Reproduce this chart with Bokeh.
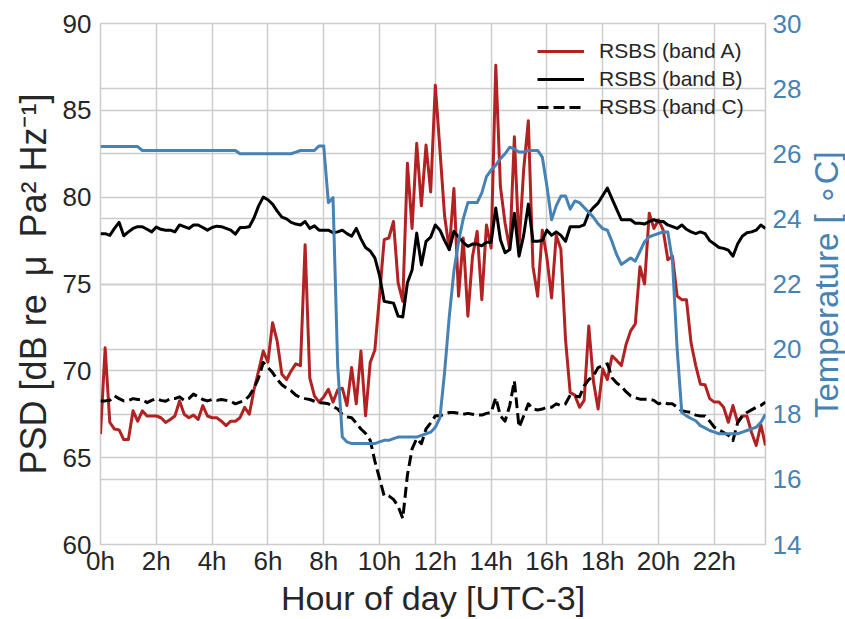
from bokeh.plotting import figure
from bokeh.layouts import row
from bokeh.models import Range1d, LinearAxis, FixedTicker, Grid, Legend, LegendItem, Div
from bokeh.embed import file_html
from bokeh.resources import INLINE

# 10-minute samples, 0h .. 23h50
hours = [i / 6 for i in range(144)]

band_a = [
    66.36, 71.33, 67.03, 66.65, 66.6, 66.04,
    66.05, 67.7, 67.1, 67.7, 67.4, 67.4,
    67.4, 67.3, 67.03, 67.2, 67.4, 68.27,
    67.5, 67.3, 67.45, 67.2, 68.0, 67.4,
    67.3, 67.3, 67.1, 66.85, 67.1, 67.1,
    67.3, 67.9, 67.5, 68.9, 70.0, 71.14,
    70.5, 72.77, 71.7, 69.8, 69.5, 70.0,
    70.4, 70.3, 77.26, 69.6, 68.56, 68.2,
    68.5, 68.94, 68.2, 68.9, 69.0, 68.0,
    70.19, 68.1, 71.14, 67.41, 70.48, 71.2,
    74.3, 77.55, 77.65, 78.6, 75.07, 74.0,
    81.95, 78.2, 83.1, 79.5, 83.0, 80.3,
    86.44, 82.7, 78.9, 76.98, 80.5, 74.3,
    77.65, 73.15, 76.6, 78.03, 74.1, 78.4,
    77.07, 87.6, 80.6, 78.5, 76.98, 83.48,
    77.17, 81.6, 84.4, 76.0, 74.3, 78.1,
    76.5, 74.2, 77.8, 77.0, 71.8, 68.75,
    68.6, 67.9, 68.3, 72.58, 69.4, 67.8,
    70.1, 69.5, 70.86, 70.6, 70.3, 71.5,
    72.3, 72.7, 76.0, 75.0, 79.08, 78.2,
    78.7, 78.1, 76.4, 76.6, 74.3, 74.1,
    74.1, 71.6, 70.3, 69.23, 69.2, 68.4,
    68.2, 68.2, 67.9, 67.04, 68.0, 67.04,
    67.4, 67.4, 66.45, 65.7, 66.9, 65.7,
]

band_b = [
    77.9, 77.9, 77.8, 78.2, 78.55, 77.78,
    78.0, 78.2, 78.3, 78.3, 78.15, 78.0,
    78.28, 78.15, 78.1, 78.1, 78.0, 78.4,
    78.3, 78.2, 78.4, 78.4, 78.25, 78.1,
    78.25, 78.33, 78.3, 78.2, 78.1, 77.87,
    78.25, 78.25, 78.3, 78.8, 79.5, 80.0,
    79.85, 79.6, 79.2, 78.85, 78.75, 78.55,
    78.45, 78.4, 78.6, 78.2, 78.35, 78.1,
    78.1, 78.1, 77.95, 78.0, 78.1, 77.9,
    77.75, 78.2, 77.6, 77.1, 76.9, 76.5,
    75.5, 74.0, 73.95, 73.9, 73.15, 73.1,
    75.07, 75.8, 77.93, 76.1, 77.45, 77.7,
    78.4, 78.1, 77.5, 76.98, 78.03, 77.7,
    77.4, 77.17, 77.3, 77.3, 77.2, 77.4,
    77.4, 79.37, 77.55, 76.8, 76.98, 79.08,
    76.6, 77.8, 79.6, 77.46, 77.46, 77.5,
    78.1, 77.8, 78.0, 77.8, 77.46, 78.3,
    78.3, 78.3, 78.4, 79.08, 79.4, 79.66,
    80.1, 80.52, 79.9, 79.3, 78.7, 78.7,
    78.7, 78.5, 78.5, 78.45, 78.6, 78.7,
    78.6, 78.6, 78.4, 78.3, 78.2, 78.4,
    78.15, 78.0, 77.9, 78.0, 77.9, 77.5,
    77.3, 77.1, 77.05, 76.95, 76.6, 77.3,
    77.75, 77.95, 78.0, 78.1, 78.4, 78.2,
]

band_c = [
    68.27, 68.27, 68.3, 68.56, 68.4, 68.27,
    68.3, 68.4, 68.35, 68.35, 68.17, 68.3,
    68.4, 68.3, 68.25, 68.4, 68.4, 68.5,
    68.3, 68.4, 68.66, 68.5, 68.35, 68.27,
    68.35, 68.3, 68.35, 68.3, 68.25, 68.1,
    68.2, 68.3, 68.56, 69.0, 69.6, 70.48,
    70.2, 69.9, 69.5, 69.2, 69.0, 68.85,
    68.6, 68.46, 68.4, 68.35, 68.25, 68.17,
    68.15, 68.1, 67.95, 67.8, 67.5, 67.35,
    67.3, 67.0, 66.65, 66.4, 66.0, 64.8,
    63.8, 62.8, 62.8, 62.6, 62.2, 61.5,
    64.0, 65.5, 66.1, 65.8, 66.65, 67.0,
    67.41, 67.41, 67.5, 67.6, 67.6, 67.55,
    67.5, 67.55, 67.5, 67.45, 67.45, 67.55,
    67.6, 68.46, 67.4, 67.1, 68.0, 69.42,
    66.75, 67.4, 68.1, 67.8, 67.75, 67.8,
    67.9, 67.9, 68.1, 68.0, 68.1, 68.6,
    68.55, 68.5, 69.13, 69.5, 69.7, 70.19,
    70.3, 70.4, 69.6, 69.3, 69.1, 68.8,
    68.56, 68.45, 68.37, 68.37, 68.37, 68.3,
    68.1, 68.2, 68.1, 68.1, 67.9, 67.7,
    67.65, 67.6, 67.45, 67.4, 67.4, 67.1,
    66.75, 66.6, 66.45, 66.3, 65.98, 67.0,
    67.4, 67.6, 67.75, 67.9, 68.0, 68.2,
]

temperature = [
    26.22, 26.22, 26.22, 26.22, 26.22, 26.22,
    26.22, 26.22, 26.22, 26.1, 26.1, 26.1,
    26.1, 26.1, 26.1, 26.1, 26.1, 26.1,
    26.1, 26.1, 26.1, 26.1, 26.1, 26.1,
    26.1, 26.1, 26.1, 26.1, 26.1, 26.1,
    26.0, 26.0, 26.0, 26.0, 26.0, 26.0,
    26.0, 26.0, 26.0, 26.0, 26.0, 26.0,
    26.05, 26.1, 26.1, 26.1, 26.1, 26.24,
    26.24, 24.5, 24.65, 19.5, 17.3, 17.15,
    17.1, 17.1, 17.1, 17.1, 17.1, 17.1,
    17.15, 17.2, 17.2, 17.25, 17.3, 17.3,
    17.3, 17.3, 17.3, 17.35, 17.4, 17.45,
    17.6, 17.9, 19.3, 21.0, 22.4, 23.3,
    24.0, 24.5, 24.5, 24.5, 24.8, 25.3,
    25.5, 25.65, 25.85, 26.0, 26.2, 26.15,
    26.05, 26.05, 26.1, 26.1, 26.1, 25.9,
    25.0, 23.97, 24.4, 24.7, 24.7, 24.3,
    24.55, 24.5, 24.35, 24.2, 24.05, 23.85,
    23.7, 23.65, 23.3, 22.9, 22.6, 22.7,
    22.8, 22.7, 23.0, 23.3, 23.45, 23.5,
    23.55, 23.6, 23.6, 22.7, 20.0, 18.05,
    17.95, 17.87, 17.8, 17.65, 17.58, 17.5,
    17.45, 17.4, 17.4, 17.4, 17.4, 17.4,
    17.45, 17.5, 17.55, 17.6, 17.75, 18.0,
]

x_ticks = [0, 2, 4, 6, 8, 10, 12, 14, 16, 18, 20, 22]
x_tick_labels = ["0h", "2h", "4h", "6h", "8h", "10h", "12h", "14h", "16h", "18h", "20h", "22h"]
psd_ticks = [60, 65, 70, 75, 80, 85, 90]
temp_ticks = [14, 16, 18, 20, 22, 24, 26, 28, 30]

FONT = "Liberation Sans"
TEXT = "#262626"
GRID = "#cccccc"
RED = "#b22222"
BLUE = "#4682b4"

p = figure(width=810, height=619, output_backend="svg", toolbar_location=None,
           x_range=Range1d(0, hours[-1]), y_range=Range1d(60, 90),
           min_border_left=100, min_border_right=45, min_border_top=23, min_border_bottom=73,
           margin=0)
p.extra_y_ranges = {"temp": Range1d(14, 30)}
p.background_fill_color = "white"
p.border_fill_color = "white"
p.outline_line_color = GRID
p.outline_line_width = 1.5

# axes
p.xaxis.ticker = FixedTicker(ticks=x_ticks)
p.xaxis.major_label_overrides = {t: l for t, l in zip(x_ticks, x_tick_labels)}
p.yaxis.ticker = FixedTicker(ticks=psd_ticks)
for ax in (p.xaxis[0], p.yaxis[0]):
    ax.axis_line_color = None
    ax.major_tick_line_color = None
    ax.minor_tick_line_color = None
    ax.major_tick_out = 0
    ax.major_tick_in = 0
    ax.major_label_text_font = FONT
    ax.major_label_text_font_size = "26px"
    ax.major_label_text_color = TEXT
    ax.axis_label_text_font = FONT
    ax.axis_label_text_font_style = "normal"
    ax.axis_label_text_color = TEXT
p.xaxis.axis_label_text_font_size = "34px"
p.yaxis.axis_label_text_font_size = "36px"
p.xaxis.major_label_standoff = 1
p.yaxis.major_label_standoff = 9
p.xaxis.axis_label = "Hour of day [UTC-3]"
p.yaxis.axis_label = "PSD [dB re\u2002μ\u2002Pa² Hz⁻¹]"
p.xaxis.axis_label_standoff = 0
p.yaxis.axis_label_standoff = 6

raxis = LinearAxis(y_range_name="temp", ticker=FixedTicker(ticks=temp_ticks))
raxis.axis_line_color = None
raxis.major_tick_line_color = None
raxis.minor_tick_line_color = None
raxis.major_tick_out = 0
raxis.major_tick_in = 0
raxis.major_label_text_font = FONT
raxis.major_label_text_font_size = "26px"
raxis.major_label_text_color = BLUE
raxis.major_label_standoff = 7
p.add_layout(raxis, "right")

p.xgrid.grid_line_color = GRID
p.xgrid.grid_line_width = 1.5
p.ygrid.grid_line_color = GRID
p.ygrid.grid_line_width = 1.5
tgrid = Grid(dimension=1, ticker=FixedTicker(ticks=temp_ticks), y_range_name="temp",
             grid_line_color=GRID, grid_line_width=1.5)
p.add_layout(tgrid)

ra = p.line(hours, band_a, line_color=RED, line_width=3, line_join="round")
rb = p.line(hours, band_b, line_color="black", line_width=3, line_join="round")
rc = p.line(hours, band_c, line_color="black", line_width=3, line_dash="11 5", line_join="round")
p.line(hours, temperature, line_color=BLUE, line_width=3, line_join="round", y_range_name="temp")

legend = Legend(items=[LegendItem(label="RSBS (band A)", renderers=[ra]),
                       LegendItem(label="RSBS (band B)", renderers=[rb]),
                       LegendItem(label="RSBS (band C)", renderers=[rc])],
                location=(437, 425), border_line_color=None, background_fill_alpha=0,
                padding=0, margin=0, spacing=4, glyph_width=47, glyph_height=20,
                label_height=20, label_standoff=15,
                label_text_font=FONT, label_text_font_size="21px", label_text_color=TEXT)
p.add_layout(legend)

# right-hand axis title, reading bottom-to-top as in the reference
right_title = Div(
    text=("<div style=\"margin-top:23px;height:523px;width:33px;writing-mode:vertical-rl;"
          "transform:rotate(180deg);text-align:center;white-space:nowrap;line-height:33px;"
          "font-family:'Liberation Sans';font-size:33px;color:#4682b4;\">"
          "Temperature [ ∘C]</div>"),
    width=35, height=619, margin=0)

layout = row(p, right_title, spacing=0)
open("out.html", "w").write(file_html(layout, INLINE))
